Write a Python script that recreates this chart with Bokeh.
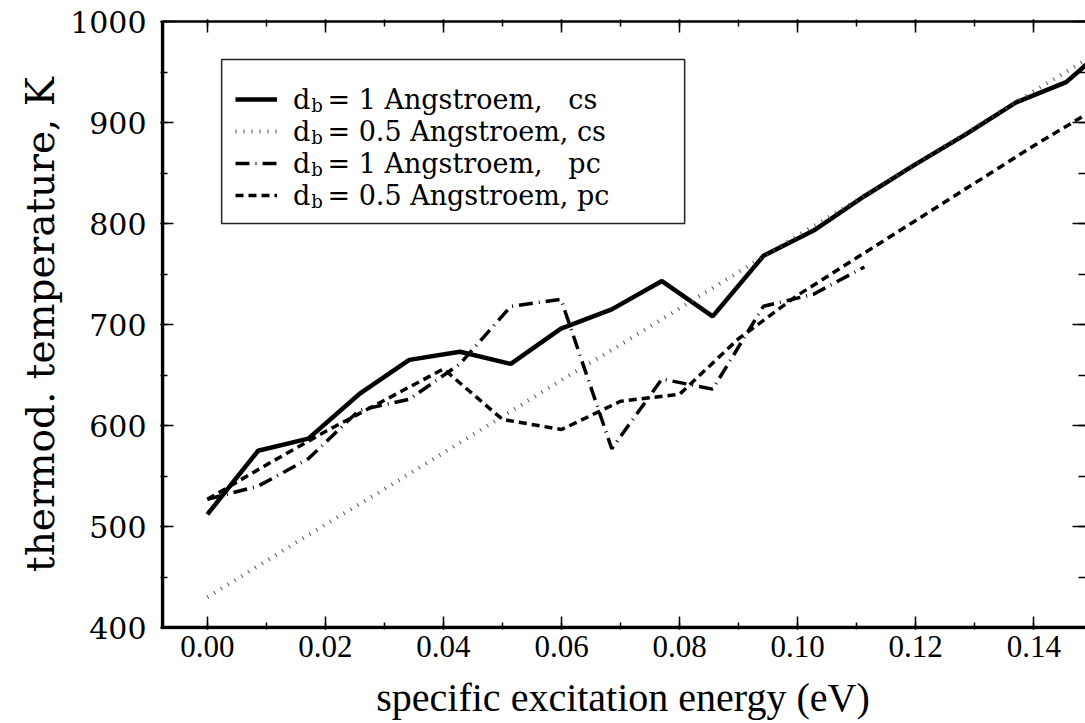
from bokeh.plotting import figure
from bokeh.models import (Range1d, LinearAxis, SingleIntervalTicker, NumeralTickFormatter,
                          Legend, LegendItem, Label)
from bokeh.embed import file_html
from bokeh.resources import INLINE

# ---------------- data ----------------
energy_1A = [0.0000, 0.0086, 0.0171, 0.0257, 0.0342, 0.0428, 0.0514, 0.0599, 0.0685,
             0.0770, 0.0856, 0.0942, 0.1027, 0.1113, 0.1198, 0.1284, 0.1370, 0.1455, 0.1541]
temp_1A_cs = [512, 575, 587, 631, 665, 673, 661, 696, 715,
              743, 708, 768, 793, 827, 858, 888, 920, 940, 984]

energy_1A_pc = [0.0000, 0.0086, 0.0171, 0.0257, 0.0342, 0.0428, 0.0514, 0.0599, 0.0685,
                0.0770, 0.0856, 0.0942, 0.1027, 0.1113]
temp_1A_pc = [527, 540, 567, 615, 626, 661, 718, 725, 577, 646, 636, 718, 730, 757]

energy_05A = [0.00, 0.01, 0.02, 0.03, 0.04, 0.05, 0.06, 0.07, 0.08,
              0.09, 0.10, 0.11, 0.12, 0.13, 0.14, 0.15]
temp_05A_cs = [430, 466, 502, 537, 573, 609, 645, 680, 716,
               752, 788, 823, 859, 895, 931, 966]
temp_05A_pc = [527, 561, 594, 625, 656, 606, 596, 624, 631,
               686, 729, 766, 803, 840, 877, 912]

series_labels = ["1 Angstroem,\u00a0\u00a0\u00a0cs", "0.5 Angstroem, cs",
                 "1 Angstroem,\u00a0\u00a0\u00a0pc", "0.5 Angstroem, pc"]

x_title = "specific excitation energy (eV)"
y_title = "thermod. temperature, K"

# ---------------- layout ----------------
W, H = 1085, 723
# axes box of the reference (canvas px) and its data limits
BL, BT, BB = 162, 21, 627
BX0, BX1_PX, BX1 = -0.0076, 1085, 0.1491
BY0, BY1 = 400, 1000
# Bokeh frame is 2 px larger so that the heavy box line is not clipped
FL, FT, FB, FR = BL - 2, BT - 2, BB + 2, 1083


def px2x(px):
    return BX0 + (px - BL) / (BX1_PX - BL) * (BX1 - BX0)


def py2y(py):
    return BY1 - (py - BT) / (BB - BT) * (BY1 - BY0)


p = figure(width=W, height=H, x_range=Range1d(px2x(FL), px2x(FR)),
           y_range=Range1d(py2y(FB), py2y(FT)),
           output_backend="svg", toolbar_location=None,
           min_border_left=FL, min_border_right=0, min_border_top=FT,
           min_border_bottom=H - FB)
p.outline_line_color = None
p.grid.visible = False
p.background_fill_color = "white"
p.border_fill_color = "white"

xt = SingleIntervalTicker(interval=0.02, num_minor_ticks=2)
yt = SingleIntervalTicker(interval=100, num_minor_ticks=2)

for ax in p.xaxis:
    ax.ticker = xt
    ax.formatter = NumeralTickFormatter(format="0.00")
    ax.major_label_text_font = "Liberation Serif"
    ax.major_label_text_font_size = "31px"
    ax.major_label_standoff = 6
    ax.axis_label = x_title
    ax.axis_label_text_font = "Liberation Serif"
    ax.axis_label_text_font_size = "40px"
    ax.axis_label_text_font_style = "normal"
    ax.axis_label_standoff = 15

for ax in p.yaxis:
    ax.ticker = yt
    ax.major_label_text_font = "DejaVu Serif"
    ax.major_label_text_font_size = "30px"
    ax.major_label_standoff = 14
    ax.axis_label = y_title
    ax.axis_label_text_font = "DejaVu Serif"
    ax.axis_label_text_font_size = "39px"
    ax.axis_label_text_font_style = "normal"
    ax.axis_label_standoff = 4

top_ax = LinearAxis(ticker=xt, major_label_text_font_size="1px", major_label_standoff=0,
                    major_label_text_color=None)
right_ax = LinearAxis(ticker=yt, major_label_text_font_size="1px", major_label_standoff=0,
                      major_label_text_color=None)
p.add_layout(top_ax, "above")
p.add_layout(right_ax, "right")

for ax in [*p.xaxis, *p.yaxis]:
    ax.axis_line_color = None
    ax.major_tick_in = 13
    ax.major_tick_out = 0
    ax.minor_tick_in = 7
    ax.minor_tick_out = 0
    ax.major_tick_line_color = "black"
    ax.minor_tick_line_color = "black"
    ax.major_tick_line_width = 1.5
    ax.minor_tick_line_width = 1.5
    if ax is not top_ax and ax is not right_ax:
        ax.major_label_text_color = "black"
        ax.axis_label_text_color = "black"

# heavy axes box drawn as glyph lines (the right edge lies outside the picture)
x_far = px2x(1095)
p.line([x_far, BX0], [BY1, BY1], line_color="black", line_width=2.5)
p.line([BX0, BX0, x_far], [BY1, BY0, BY0], line_color="black", line_width=3.5,
       line_join="miter")

# legend frame
p.quad(left=[px2x(221)], right=[px2x(683)], top=[py2y(59)], bottom=[py2y(223)],
       fill_color="white", line_color="#222222", line_width=1.5)

# ---------------- lines ----------------
r_cs1 = p.line(energy_1A, temp_1A_cs, line_color="black", line_width=4.5)
r_cs05 = p.line(energy_05A, temp_05A_cs, line_color="#555555", line_width=4,
                line_dash="1 7")
r_pc1 = p.line(energy_1A_pc, temp_1A_pc, line_color="black", line_width=3.5,
               line_dash="14 6 1 6")
r_pc05 = p.line(energy_05A, temp_05A_pc, line_color="black", line_width=3.5,
                line_dash="8 5")

# ---------------- legend ----------------
renderers = [r_cs1, r_cs05, r_pc1, r_pc05]
items = [LegendItem(label="d\u00a0\u00a0= " + s, renderers=[r])
         for s, r in zip(series_labels, renderers)]
row_pitch = 32
leg_top = 99 - row_pitch / 2
leg_bottom = leg_top + 4 * row_pitch
legend = Legend(items=items, location=(235 - FL, FB - leg_bottom), padding=0, spacing=0,
                margin=0, glyph_width=42, glyph_height=row_pitch, label_height=row_pitch,
                label_standoff=16, label_text_font="DejaVu Serif", label_text_font_size="27px",
                label_text_color="black",
                border_line_color=None, background_fill_alpha=0.0)
p.add_layout(legend)

for i in range(4):
    row_c = leg_top + row_pitch / 2 + i * row_pitch
    p.add_layout(Label(x=px2x(293 + 17.3), y=py2y(row_c + 6), text="b",
                       text_font="DejaVu Serif", text_font_size="18px", text_color="black",
                       text_baseline="middle", text_align="left"))

open("out.html", "w").write(file_html(p, INLINE))
